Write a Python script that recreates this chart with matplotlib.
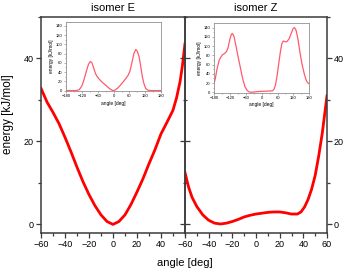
import matplotlib
matplotlib.use("Agg")
import matplotlib.pyplot as plt
from matplotlib.ticker import MultipleLocator, FixedLocator

plt.rcParams['font.family'] = ['Liberation Sans', 'DejaVu Sans']

# main curves (angle [deg], energy [kJ/mol])
e_angle = [-60, -55, -50, -45, -40, -35, -30, -25, -20, -15, -10, -5, 0,
           5, 10, 15, 20, 25, 30, 35, 40, 45, 50, 53, 56, 58, 60]
e_energy = [32.8, 29.5, 27.0, 24.3, 21.0, 17.5, 13.8, 10.3, 7.2, 4.5, 2.3, 0.7, 0.0,
            0.7, 2.3, 4.8, 7.8, 11.0, 14.6, 18.0, 21.8, 24.6, 27.5, 30.5, 34.5, 38.5, 43.5]

z_angle = [-60, -57, -54, -50, -45, -40, -35, -30, -25, -20, -15, -10, -5, 0,
           5, 10, 15, 20, 25, 30, 35, 38, 41, 44, 47, 50, 53, 56, 58, 60]
z_energy = [12.5, 9.0, 6.5, 4.3, 2.3, 1.0, 0.3, 0.1, 0.3, 0.7, 1.2, 1.8, 2.2, 2.5,
            2.7, 2.9, 3.0, 3.0, 2.8, 2.5, 2.5, 3.0, 4.2, 6.0, 8.5, 11.8, 16.5, 22.0, 26.5, 31.0]

# inset curves, full rotation
ei_angle = [-180, -140, -130, -120, -113, -105, -100, -95, -88, -82, -75, -68, -62,
            -55, -45, -35, -25, -15, -5, 0, 5, 15, 25, 35, 45, 55, 62, 70, 77, 84,
            90, 97, 103, 109, 115, 122, 130, 138, 180]
ei_energy = [0, 0, 2, 10, 22, 38, 48, 57, 63, 60, 48, 36, 30,
             25, 19, 14, 9, 4, 0.5, 0, 1, 5, 11, 18, 25, 33, 42, 62, 80, 89,
             85, 72, 52, 30, 15, 4, 1, 0, 0]

zi_angle = [-180, -175, -168, -160, -150, -140, -133, -127, -120, -114, -110, -104,
            -97, -89, -80, -72, -63, -55, -48, -40, -30, -15, 0, 20, 40, 46, 52, 58,
            64, 70, 76, 82, 90, 96, 104, 112, 119, 124, 130, 137, 145, 152, 160, 167,
            173, 180]
zi_energy = [18, 30, 52, 70, 80, 84, 88, 96, 115, 126, 127, 120,
             100, 77, 52, 30, 12, 4, 1, 0, 0.5, 1.5, 2, 2.5, 3, 6, 15, 35,
             60, 85, 105, 111, 109, 110, 116, 128, 138, 140, 134, 115, 85, 62, 42, 28,
             21, 18]

left_xticks = [-60, -40, -20, 0, 20, 40]

spine_col = '#3a3a3a'
red = '#ff0000'
pink = '#ff5a6e'

fig = plt.figure(figsize=(3.46, 2.72), dpi=100)
ax1 = fig.add_axes([0.1185, 0.1445, 0.416, 0.793])
ax2 = fig.add_axes([0.5347, 0.1445, 0.4104, 0.793])

for ax in (ax1, ax2):
    ax.set_xlim(-60, 60)
    ax.set_ylim(-2, 50)
    ax.xaxis.set_major_locator(MultipleLocator(20))
    ax.xaxis.set_minor_locator(MultipleLocator(10))
    ax.yaxis.set_major_locator(MultipleLocator(20))
    ax.yaxis.set_minor_locator(MultipleLocator(10))
    for s in ax.spines.values():
        s.set_color(spine_col)
        s.set_linewidth(1.1)
    ax.tick_params(which='both', direction='out', color=spine_col, width=0.9,
                   labelsize=6.5, pad=1.5)
    ax.tick_params(which='major', length=3.5)
    ax.tick_params(which='minor', length=2)

ax1.xaxis.set_major_locator(FixedLocator(left_xticks))

ax1.plot(e_angle, e_energy, color=red, lw=2)
ax2.plot(z_angle, z_energy, color=red, lw=2)

ax1.tick_params(axis='y', right=False)
ax1.spines['right'].set_visible(False)

ax2.yaxis.tick_right()
ax2.tick_params(axis='y', which='both', left=False, labelleft=False)
mid = ax2.secondary_yaxis('left')
mid.yaxis.set_major_locator(MultipleLocator(20))
mid.yaxis.set_minor_locator(MultipleLocator(10))
mid.tick_params(which='both', direction='inout', labelleft=False, color=spine_col, width=0.9)
mid.tick_params(which='major', length=7)
mid.tick_params(which='minor', length=3.5)
mid.spines['left'].set_color(spine_col)
mid.spines['left'].set_linewidth(1.1)

ax1.set_title('isomer E', fontsize=8, pad=4)
ax2.set_title('isomer Z', fontsize=8, pad=4)
fig.text(0.022, 0.58, 'energy [kJ/mol]', rotation=90, fontsize=8.5, ha='center', va='center')
fig.text(0.535, 0.033, 'angle [deg]', fontsize=8, ha='center', va='center')

# insets
in1 = fig.add_axes([0.191, 0.6654, 0.2746, 0.2548])
in2 = fig.add_axes([0.6185, 0.659, 0.2755, 0.255])
for ax, xs, ys in ((in1, ei_angle, ei_energy), (in2, zi_angle, zi_energy)):
    ax.plot(xs, ys, color=pink, lw=0.9)
    ax.set_xlim(-180, 180)
    ax.set_ylim(-1, 149)
    ax.xaxis.set_major_locator(MultipleLocator(60))
    ax.xaxis.set_minor_locator(MultipleLocator(30))
    ax.yaxis.set_major_locator(MultipleLocator(20))
    ax.yaxis.set_minor_locator(MultipleLocator(10))
    for s in ax.spines.values():
        s.set_color('#909090')
        s.set_linewidth(0.6)
    ax.tick_params(which='both', direction='out', labelsize=3, pad=1, width=0.4,
                   color='#707070')
    ax.tick_params(which='major', length=1.5)
    ax.tick_params(which='minor', length=0.8)
    ax.set_xlabel('angle [deg]', fontsize=3.5, labelpad=1.5)
    ax.set_ylabel('energy [kJ/mol]', fontsize=3.5, labelpad=1.5)

fig.savefig('out.png', dpi=100)
